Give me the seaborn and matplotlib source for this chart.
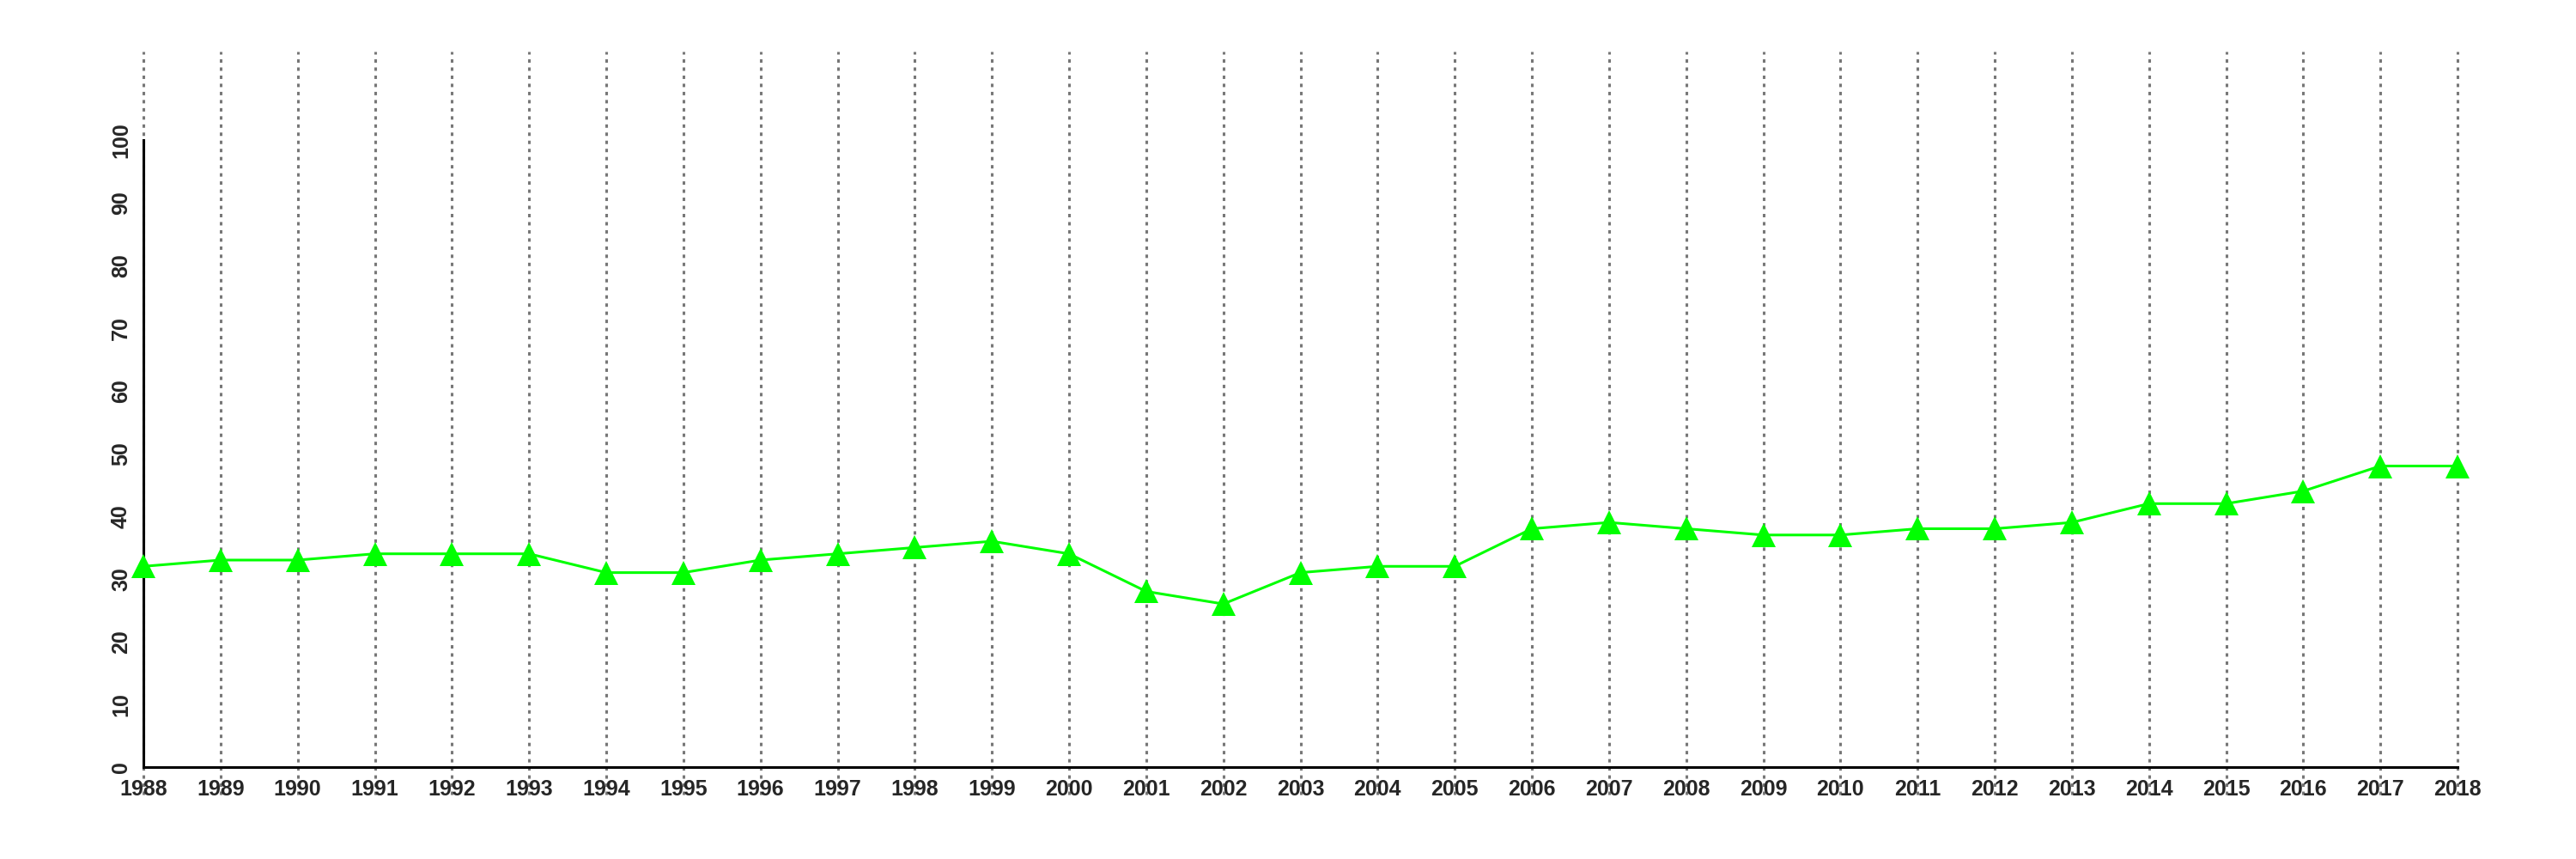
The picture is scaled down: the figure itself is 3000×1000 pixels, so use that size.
import matplotlib
matplotlib.use("Agg")
import matplotlib.pyplot as plt
import seaborn as sns
import pandas as pd

years = list(range(1988, 2019))
values = [32, 33, 33, 34, 34, 34, 31, 31, 33, 34, 35, 36, 34, 28, 26, 31,
          32, 32, 38, 39, 38, 37, 37, 38, 38, 39, 42, 42, 44, 48, 48]
y_ticks = list(range(0, 101, 10))

sns.set_style("white")
plt.rcParams['font.family'] = ['Liberation Sans', 'DejaVu Sans']
plt.rcParams['font.weight'] = 'bold'

df = pd.DataFrame({"year": years, "value": values})

fig = plt.figure(figsize=(30, 10), dpi=100)
ax = fig.add_axes([167 / 3000, 75 / 1000, (2862 - 167) / 3000, 865 / 1000])

# vertical dotted grid lines at each year
for yr in years:
    ax.axvline(yr, color="#777777", linestyle=(0, (1.3, 1.8)), linewidth=2.2,
               zorder=0, clip_on=False)

sns.lineplot(data=df, x="year", y="value", ax=ax, color="#00ff00", linewidth=2.2,
             marker="^", markersize=20, markeredgewidth=0, clip_on=False, zorder=3)

ax.set_xlim(1988, 2018)
ax.set_ylim(-4.4, 114.1)

for s in ["top", "right"]:
    ax.spines[s].set_visible(False)
ax.spines["left"].set_bounds(0, 100)
ax.spines["bottom"].set_position(("data", 0))
ax.spines["bottom"].set_bounds(1988, 2018)
for s in ["left", "bottom"]:
    ax.spines[s].set_linewidth(2.2)
    ax.spines[s].set_color("black")

ax.set_xticks(years)
ax.set_xticklabels([str(y) for y in years], fontsize=18, fontweight="bold")
ax.set_yticks(y_ticks)
ax.set_yticklabels([str(t) for t in y_ticks], fontsize=18, fontweight="bold",
                   rotation=90, va="center")
ax.tick_params(axis="both", length=8, width=2.2, direction="out", pad=2, color="black")
ax.set_xlabel("")
ax.set_ylabel("")

fig.savefig("out.png", dpi=100)
